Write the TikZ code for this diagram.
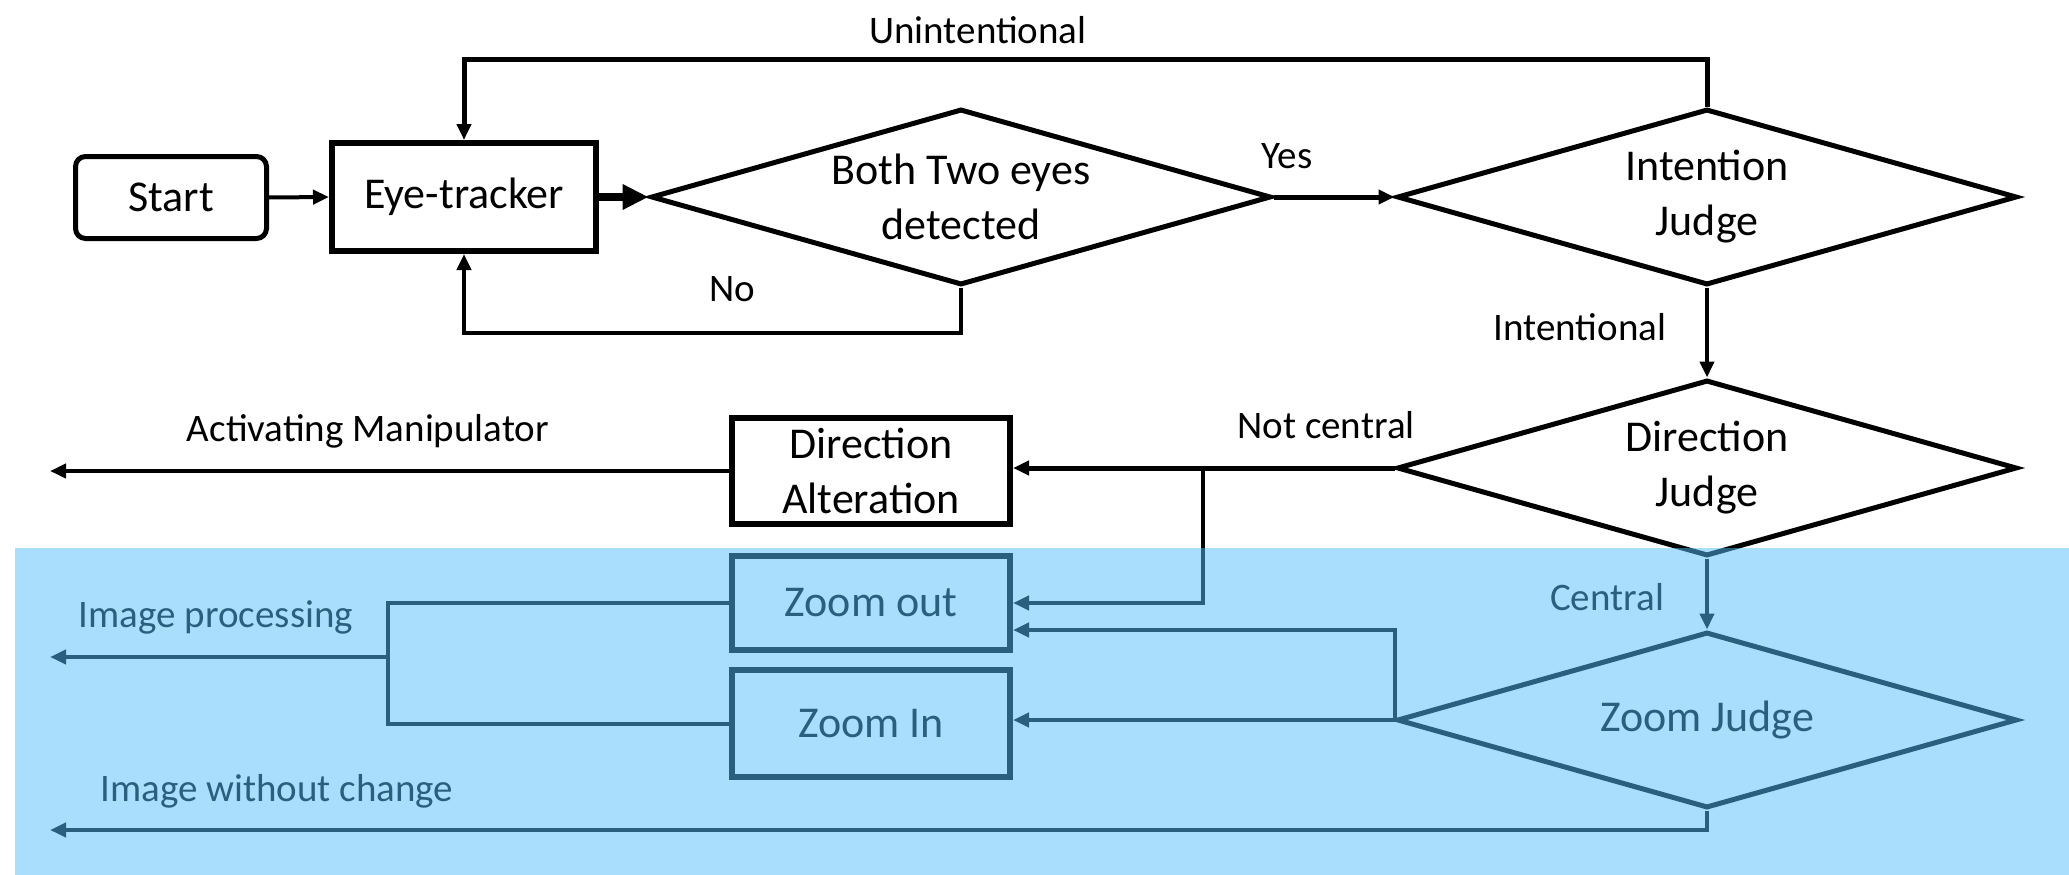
\documentclass[tikz,border=0pt]{standalone}
\usepackage{fontspec}
\setmainfont{Carlito}
\usetikzlibrary{shapes.geometric,arrows.meta,calc}
\definecolor{ovl}{RGB}{86,190,252}
\begin{document}
\begin{tikzpicture}[x=1pt,y=-1pt,
  mainf/.style={font=\fontsize{44}{55}\selectfont},
  box/.style={draw, line width=6pt, inner sep=0pt, align=center, mainf},
  dia/.style={draw, diamond, line width=5pt, inner sep=0pt, minimum width=620pt, minimum height=176pt},
  dtext/.style={mainf, align=center, inner sep=0pt},
  arr/.style={line width=4pt, -{Triangle[length=16pt,width=14pt]}},
  lbl/.style={font=\fontsize{39}{47}\selectfont, inner sep=0pt}]
\fill[white] (0,0) rectangle (2069,875);
\useasboundingbox (0,0) rectangle (2069,875);

% nodes
\node[box, line width=5pt, rounded corners=10pt, minimum width=191pt, minimum height=82pt] (start) at (171,197.5) {Start};
\node[box, minimum width=264pt, minimum height=108pt] (eye) at (464,197) {Eye-tracker};
\node[dia, label={[dtext]center:Both Two eyes\\detected}] (d1) at (961,197) {};
\node[dia, label={[dtext]center:Intention\\Judge}] (d2) at (1707,197) {};
\node[dia, label={[dtext]center:Direction\\Judge}] (d3) at (1707,468) {};
\node[dia, label={[dtext]center:Zoom Judge}] (d4) at (1707,720) {};
\node[box, minimum width=278pt, minimum height=106pt] (da) at (871,471) {Direction\\Alteration};
\node[box, minimum width=278pt, minimum height=94pt] (zo) at (871,603) {Zoom out};
\node[box, minimum width=278pt, minimum height=107pt] (zi) at (871,723.5) {Zoom In};

% helper coordinates
\coordinate (topy) at (0,60);
\coordinate (noy) at (0,333);
\coordinate (leftx) at (50,0);
\coordinate (ncx) at (1203,0);
\coordinate (ipx) at (388,657);
\coordinate (wcy) at (0,830);

% connectors
\draw[arr] (start.east) -- (eye.west);
\draw[line width=8pt, -{Triangle[length=26pt,width=24pt]}] (eye.east) -- (d1.west);
\draw[arr, line width=5pt] (d1.east) -- (d2.west);
\draw[arr, line width=5pt] (d2.north) -- (d2.north |- topy) -| (eye.north);
\draw[arr] (d1.south) -- (d1.south |- noy) -| (eye.south);
\draw[arr] (d2.south) -- (d3.north);
\draw[arr, line width=5pt] (d3.west) -- (d3.west -| da.east);
\draw[arr] (d3.west -| ncx) |- (zo.east);
\draw[arr] (d3.south) -- (d4.north);
\draw[arr] (d4.west) -- (d4.west -| zi.east);
\draw[arr] (d4.west) |- ($(zo.east)+(0,27)$);
\draw[line width=4pt] (zo.west) -| (ipx) |- (zi.west);
\draw[arr] (ipx) -- (ipx -| leftx);
\draw[arr] (da.west) -- (da.west -| leftx);
\draw[arr] (d4.south) |- (wcy -| leftx);

% labels
\node[lbl] (l1) at (978,30) {Unintentional};
\node[lbl] (l2) at (1287,156) {Yes};
\node[lbl] (l3) at (732,289) {No};
\node[lbl] (l4) at (1580,327) {Intentional};
\node[lbl] (l5) at (1326,425) {Not central};
\node[lbl] (l6) at (368,431) {Activating Manipulator};
\node[lbl] (l7) at (216,617) {Image processing};
\node[lbl] (l8) at (1607,597) {Central};
\node[lbl] (l9) at (277,791) {Image without change};

% overlay
\fill[ovl, opacity=0.5] (15,548) rectangle (2069,875);
\end{tikzpicture}
\end{document}
